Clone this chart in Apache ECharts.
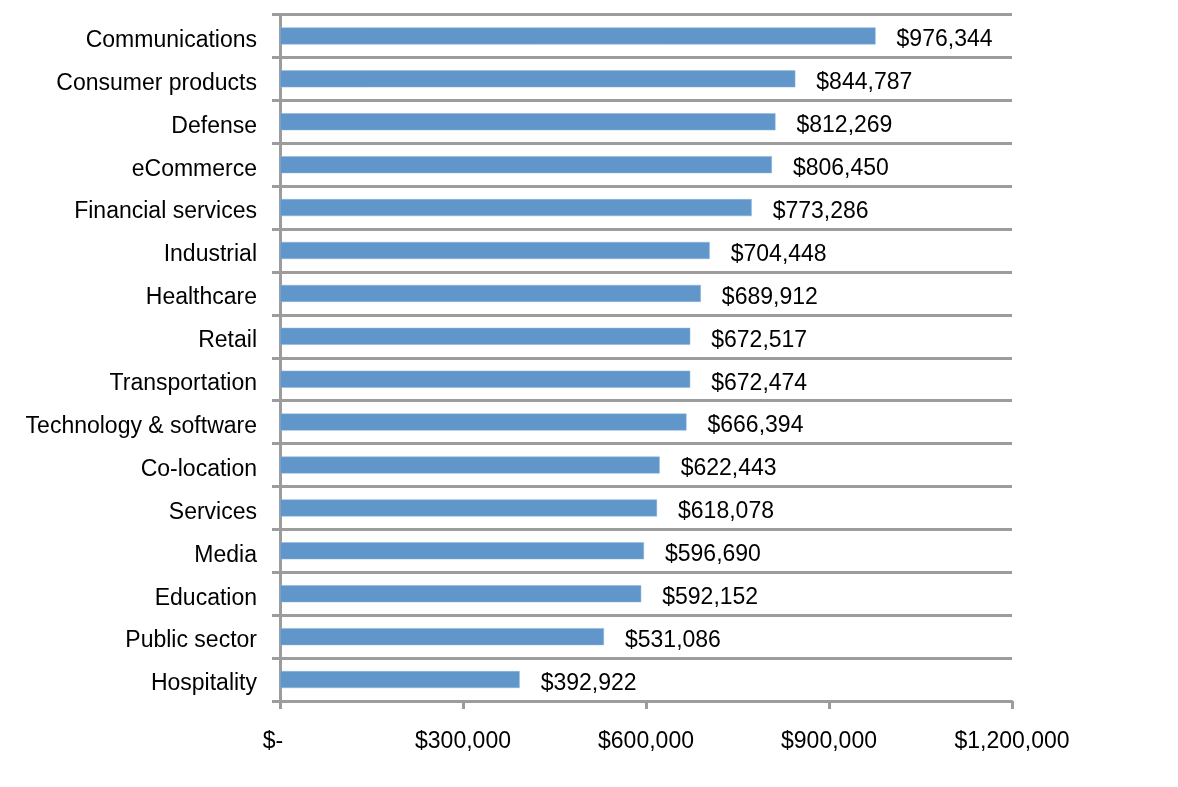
<!DOCTYPE html>
<html>
<head>
<meta charset="utf-8">
<script src="https://cdn.jsdelivr.net/npm/echarts@6/dist/echarts.min.js"></script>
<style>
html,body{margin:0;padding:0;background:#fff;}
#chart{width:1178px;height:787px;}
</style>
</head>
<body>
<div id="chart"></div>
<script>
const categories = ["Communications","Consumer products","Defense","eCommerce","Financial services","Industrial","Healthcare","Retail","Transportation","Technology & software","Co-location","Services","Media","Education","Public sector","Hospitality"];
const values = [976344,844787,812269,806450,773286,704448,689912,672517,672474,666394,622443,618078,596690,592152,531086,392922];
const xMin = 0, xMax = 1200000, xStep = 300000;

const fmt = v => '$' + Number(v).toLocaleString('en-US');
const font = '"Liberation Sans", Arial, sans-serif';
const gray = '#9c9c9c';
const fs = 23;

const chart = echarts.init(document.getElementById('chart'));
chart.setOption({
  animation: false,
  grid: { left: 280, right: 166, top: 14.5, bottom: 86, containLabel: false },
  xAxis: {
    type: 'value', min: xMin, max: xMax, interval: xStep,
    axisLine: { show: true, lineStyle: { color: gray, width: 2 } },
    axisTick: { show: true, length: 8, lineStyle: { color: gray, width: 3 } },
    splitLine: { show: false },
    axisLabel: {
      margin: 29, color: '#000', fontSize: fs, fontFamily: font,
      formatter: v => v === 0 ? '{z|$-}' : fmt(v),
      rich: { z: { fontSize: fs, fontFamily: font, color: '#000', padding: [0, 14, 0, 0] } }
    }
  },
  yAxis: {
    type: 'category', data: categories, inverse: true,
    axisLine: { show: true, lineStyle: { color: gray, width: 3 } },
    axisTick: { show: true, length: 8, lineStyle: { color: gray, width: 3 } },
    splitLine: { show: true, lineStyle: { color: gray, width: 3 } },
    axisLabel: {
      margin: 23, color: '#000', fontSize: fs, fontFamily: font,
      formatter: v => '{c|' + v + '}',
      rich: { c: { fontSize: fs, fontFamily: font, color: '#000', padding: [9, 0, 0, 0] } }
    }
  },
  series: [{
    type: 'bar', data: values, barWidth: 17,
    itemStyle: { color: '#6096c9', borderColor: '#8fb4dc', borderWidth: 0.5 },
    label: { show: true, position: 'right', distance: 21, offset: [0, 4], color: '#000', fontSize: fs, fontFamily: font, formatter: p => fmt(p.value) }
  }]
});
</script>
</body>
</html>
